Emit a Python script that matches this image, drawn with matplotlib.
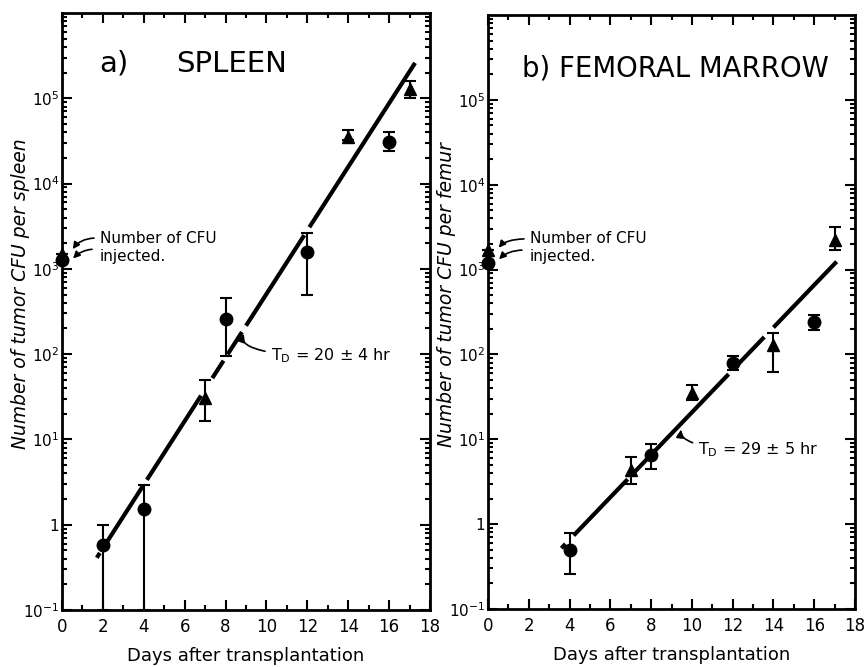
import numpy as np
import matplotlib
matplotlib.use('Agg')
import matplotlib.pyplot as plt
from matplotlib.ticker import LogLocator, MultipleLocator, FixedLocator, NullFormatter

# spleen data (days, CFU, lower / upper end of error bar)
spleen_circle_days = [0, 2, 4, 8, 12, 16]
spleen_circle_cfu = [1270, 0.58, 1.54, 255, 1580, 31000]
spleen_circle_lo = [1270, 0.1, 0.1, 95, 500, 24000]
spleen_circle_hi = [1270, 1.0, 2.9, 450, 2600, 40000]

spleen_tri_days = [0, 7, 14, 17]
spleen_tri_cfu = [1500, 31, 35000, 127000]
spleen_tri_lo = [1500, 16.6, 32000, 100000]
spleen_tri_hi = [1500, 50, 43000, 160000]

spleen_fit = [(1.7, 0.41), (17.27, 2.6e5)]
spleen_breaks = [(1.85, 2.2), (3.95, 4.15), (6.8, 7.35), (7.9, 8.1), (8.8, 9.0), (11.85, 12.1)]

# femur data
femur_circle_days = [0, 4, 8, 12, 16]
femur_circle_cfu = [1200, 0.49, 6.6, 80, 238]
femur_circle_lo = [1200, 0.26, 4.5, 66, 192]
femur_circle_hi = [1200, 0.78, 8.7, 95, 295]

femur_tri_days = [0, 7, 10, 14, 17]
femur_tri_cfu = [1700, 4.3, 35, 130, 2250]
femur_tri_lo = [1700, 2.95, 29, 62, 1700]
femur_tri_hi = [1700, 6.2, 44, 180, 3200]

femur_fit = [(3.6, 0.52), (17.1, 1240)]
femur_breaks = [(3.8, 4.2), (6.85, 7.2), (7.9, 8.2), (11.8, 12.2), (13.55, 14.0)]

ytick_vals = [0.1, 1, 10, 100, 1e3, 1e4, 1e5]
ytick_labels = ['$10^{-1}$', '1', '$10^{1}$', '$10^{2}$', '$10^{3}$', '$10^{4}$', '$10^{5}$']
xtick_vals = [0, 2, 4, 6, 8, 10, 12, 14, 16, 18]


def fit_segments(fit, breaks):
    (x0, y0), (x1, y1) = fit
    slope = (np.log10(y1) - np.log10(y0)) / (x1 - x0)
    edges = [x0]
    for a, b in breaks:
        edges += [a, b]
    edges.append(x1)
    segs = []
    for i in range(0, len(edges), 2):
        xa, xb = edges[i], edges[i + 1]
        ya = 10 ** (np.log10(y0) + slope * (xa - x0))
        yb = 10 ** (np.log10(y0) + slope * (xb - x0))
        segs.append(([xa, xb], [ya, yb]))
    return segs


def draw_points(ax, days, cfu, lo, hi, marker):
    cfu = np.array(cfu)
    yerr = [cfu - np.array(lo), np.array(hi) - cfu]
    ax.errorbar(days, cfu, yerr=yerr, fmt=marker, color='black', ms=9,
                capsize=4, elinewidth=1.5, capthick=1.5, clip_on=False, zorder=4)


def style_axes(ax, ylabel, label_x):
    ax.set_yscale('log')
    ax.set_xlim(0, 18)
    ax.set_ylim(0.1, 1e6)
    ax.xaxis.set_major_locator(FixedLocator(xtick_vals))
    ax.xaxis.set_minor_locator(MultipleLocator(1))
    ax.set_xticklabels([str(v) for v in xtick_vals])
    ax.yaxis.set_major_locator(FixedLocator(ytick_vals))
    ax.yaxis.set_minor_locator(LogLocator(base=10, subs=np.arange(2, 10)))
    ax.yaxis.set_minor_formatter(NullFormatter())
    ax.set_yticklabels(ytick_labels)
    ax.tick_params(which='both', direction='in', top=True, right=True, width=1.5)
    ax.tick_params(axis='x', labelsize=12, pad=6)
    ax.tick_params(axis='y', labelsize=11, pad=2)
    ax.tick_params(which='major', length=7)
    ax.tick_params(which='minor', length=3.5)
    for s in ax.spines.values():
        s.set_linewidth(2)
    ax.set_xlabel('Days after transplantation', fontsize=13, labelpad=8)
    ax.set_ylabel(ylabel, fontsize=13.5, style='italic')
    ax.yaxis.set_label_coords(label_x, 0.53)


fig = plt.figure(figsize=(8.64, 6.67), dpi=100)
ax1 = fig.add_axes([0.0718, 0.0855, 0.4259, 0.895])
ax2 = fig.add_axes([0.5648, 0.087, 0.4248, 0.8905])

# panel a
for xs, ys in fit_segments(spleen_fit, spleen_breaks):
    ax1.plot(xs, ys, color='black', lw=3, solid_capstyle='butt')
draw_points(ax1, spleen_circle_days, spleen_circle_cfu, spleen_circle_lo, spleen_circle_hi, 'o')
draw_points(ax1, spleen_tri_days, spleen_tri_cfu, spleen_tri_lo, spleen_tri_hi, '^')
style_axes(ax1, 'Number of tumor CFU per spleen', -0.088)
ax1.text(0.10, 0.915, 'a)', transform=ax1.transAxes, fontsize=21, va='center')
ax1.text(0.31, 0.915, 'SPLEEN', transform=ax1.transAxes, fontsize=21, va='center')
ax1.text(1.85, 1800, 'Number of CFU\ninjected.', fontsize=11, va='center', linespacing=1.25)
ax1.annotate('', xy=(0.45, 1600), xytext=(1.7, 2300),
             arrowprops=dict(arrowstyle='-|>', color='black', lw=1.2,
                             connectionstyle='angle3,angleA=0,angleB=60'))
ax1.annotate('', xy=(0.45, 1250), xytext=(1.6, 1700),
             arrowprops=dict(arrowstyle='-|>', color='black', lw=1.2,
                             connectionstyle='angle3,angleA=0,angleB=50'))
ax1.annotate('T$_\\mathrm{D}$ = 20 ± 4 hr', xy=(8.95, 185), xytext=(10.2, 95), fontsize=11.5,
             va='center',
             arrowprops=dict(arrowstyle='-|>', color='black', lw=1.2,
                             connectionstyle='angle3,angleA=180,angleB=60', shrinkA=2))

# panel b
for xs, ys in fit_segments(femur_fit, femur_breaks):
    ax2.plot(xs, ys, color='black', lw=3, solid_capstyle='butt')
draw_points(ax2, femur_circle_days, femur_circle_cfu, femur_circle_lo, femur_circle_hi, 'o')
draw_points(ax2, femur_tri_days, femur_tri_cfu, femur_tri_lo, femur_tri_hi, '^')
style_axes(ax2, 'Number of tumor CFU per femur', -0.088)
ax2.text(0.093, 0.91, 'b) FEMORAL MARROW', transform=ax2.transAxes, fontsize=19.8, va='center')
ax2.text(2.05, 1800, 'Number of CFU\ninjected.', fontsize=11, va='center', linespacing=1.25)
ax2.annotate('', xy=(0.45, 1700), xytext=(1.9, 2300),
             arrowprops=dict(arrowstyle='-|>', color='black', lw=1.2,
                             connectionstyle='angle3,angleA=0,angleB=60'))
ax2.annotate('', xy=(0.45, 1250), xytext=(1.8, 1700),
             arrowprops=dict(arrowstyle='-|>', color='black', lw=1.2,
                             connectionstyle='angle3,angleA=0,angleB=50'))
ax2.annotate('T$_\\mathrm{D}$ = 29 ± 5 hr', xy=(9.5, 14), xytext=(10.3, 7.5), fontsize=11.5,
             va='center',
             arrowprops=dict(arrowstyle='-|>', color='black', lw=1.2,
                             connectionstyle='angle3,angleA=180,angleB=70', shrinkA=2))

fig.savefig('out.png', dpi=100)
